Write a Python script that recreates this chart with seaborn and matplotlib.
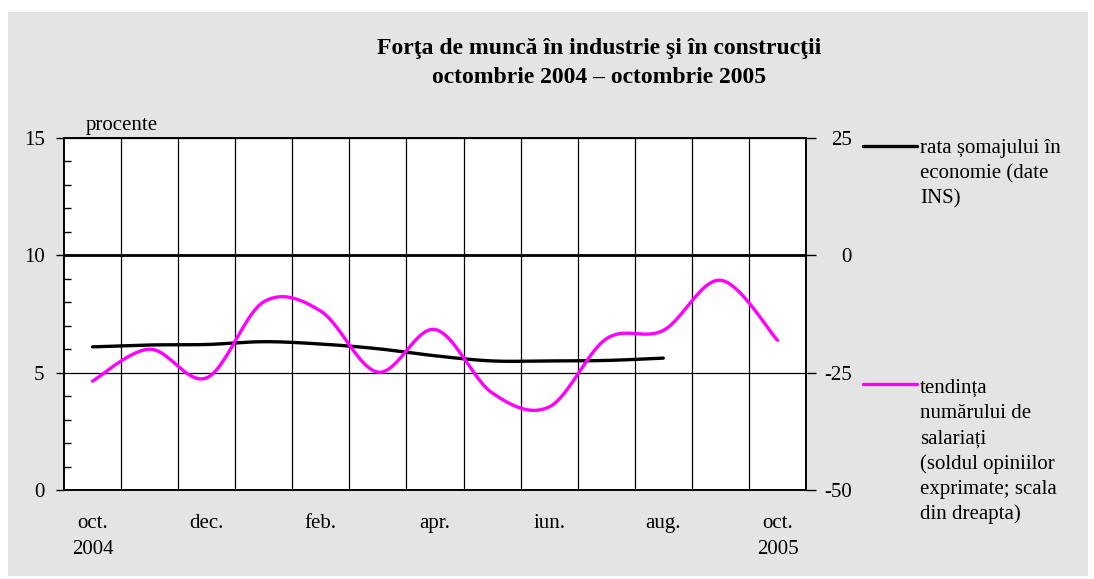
import numpy as np
import pandas as pd
import matplotlib.pyplot as plt
import seaborn as sns
from matplotlib.patches import Rectangle
from matplotlib.lines import Line2D

# month categories, oct 2004 .. oct 2005
months = ['oct.\n2004', 'nov.', 'dec.', 'ian.', 'feb.', 'mar.', 'apr.',
          'mai', 'iun.', 'iul.', 'aug.', 'sep.', 'oct.\n2005']
tick_labels = [m if i % 2 == 0 else '' for i, m in enumerate(months)]

# rata somajului (%), left axis - stops at aug.
unemployment = [6.1, 6.18, 6.2, 6.32, 6.22, 6.02, 5.72, 5.5, 5.5, 5.52, 5.62]
# tendinta numarului de salariati (sold), right axis
employees = [-26.8, -20.0, -26.1, -9.9, -11.9, -24.9, -15.8,
             -29.3, -32.3, -17.8, -16.0, -5.3, -18.1]

title = 'Forţa de muncă în industrie şi în construcţii\noctombrie 2004 – octombrie 2005'
legend_black = ['rata șomajului în', 'economie (date', 'INS)']
legend_pink = ['tendința', 'numărului de', 'salariați', '(soldul opiniilor',
               'exprimate; scala', 'din dreapta)']

W, H = 1094, 579
PINK = '#ff00ff'
FS = 15


def smooth(values, n=25):
    # excel-like smoothed line (bezier through the points)
    p = np.column_stack([np.arange(len(values), dtype=float), np.asarray(values, float)])
    pad = np.vstack([p[0], p, p[-1]])
    t = np.linspace(0, 1, n)[:, None]
    out = []
    for i in range(len(p) - 1):
        p0, p1, p2, p3 = pad[i], pad[i + 1], pad[i + 2], pad[i + 3]
        c1 = p1 + (p2 - p0) / 6
        c2 = p2 - (p3 - p1) / 6
        seg = (1 - t) ** 3 * p1 + 3 * (1 - t) ** 2 * t * c1 + 3 * (1 - t) * t ** 2 * c2 + t ** 3 * p2
        out.append(seg if i == 0 else seg[1:])
    return pd.DataFrame(np.vstack(out), columns=['x', 'y'])


def fx(px):
    return px / W


def fy(py):
    return 1 - py / H


sns.set_style('white')
plt.rcParams['font.family'] = ['Liberation Serif', 'DejaVu Serif']
plt.rcParams.update({'text.color': 'black', 'xtick.color': 'black',
                     'ytick.color': 'black', 'axes.labelcolor': 'black',
                     'axes.unicode_minus': False})

fig = plt.figure(figsize=(W / 100, H / 100), dpi=100, facecolor='white')
fig.patches.append(Rectangle((fx(8), fy(576)), fx(1088 - 8), (576 - 12) / H,
                             transform=fig.transFigure, facecolor='#e4e4e4',
                             edgecolor='none', zorder=-5))

ax = fig.add_axes([fx(64), fy(490), fx(806 - 64), (490 - 138) / H])
ax.set_facecolor('white')
ax2 = ax.twinx()
ax2.patch.set_visible(False)

sns.lineplot(data=smooth(unemployment), x='x', y='y', ax=ax, color='black',
             lw=2.4, sort=False, estimator=None, legend=False)
sns.lineplot(data=smooth(employees), x='x', y='y', ax=ax2, color=PINK,
             lw=2.4, sort=False, estimator=None, legend=False)
ax2.axhline(0, color='black', lw=2, zorder=1)

ax.set_xlim(-0.5, len(months) - 0.5)
ax.set_ylim(0, 15)
ax2.set_ylim(-50, 25)
ax.set_xlabel('')
ax.set_ylabel('')
ax2.set_ylabel('')

ax.set_xticks(range(len(months)))
ax.set_xticklabels(tick_labels, fontsize=FS)
for lab in ax.get_xticklabels():
    lab.set_linespacing(1.5)
ax.set_xticks(np.arange(len(months) - 1) + 0.5, minor=True)
ax.tick_params(axis='x', which='both', length=0, pad=17)
ax.grid(False)
ax.grid(axis='x', which='minor', color='black', lw=0.9)
ax.set_yticks([0, 5, 10, 15])
ax.set_yticks(np.arange(0, 16, 1), minor=True)
ax.grid(axis='y', which='major', color='black', lw=0.9)
ax.tick_params(axis='y', which='major', direction='out', length=6, width=1,
               pad=8, labelsize=FS, left=True)
ax.tick_params(axis='y', which='minor', direction='in', length=5, width=1, left=True)

ax2.set_yticks([-50, -25, 0, 25])
ax2.grid(False)
ax2.tick_params(axis='y', direction='out', length=7, width=1, pad=26,
                labelsize=FS, right=True)
for lab in ax2.get_yticklabels():
    lab.set_ha('right')

for a in (ax, ax2):
    for s in a.spines.values():
        s.set_color('black')
        s.set_linewidth(1.2)
        s.set_visible(True)

fig.text(fx(599), fy(63), title, ha='center', va='center', fontsize=17,
         fontweight='bold', linespacing=1.55)
fig.text(fx(86), fy(130), 'procente', ha='left', va='baseline', fontsize=FS)

# legend keys and wrapped labels on the right
fig.add_artist(Line2D([fx(863), fx(917)], [fy(146), fy(146)], color='black', lw=2.4))
fig.add_artist(Line2D([fx(863), fx(917)], [fy(384), fy(384)], color=PINK, lw=2.4))
for k, line in enumerate(legend_black):
    fig.text(fx(920), fy(153 + 25.3 * k), line, ha='left', va='baseline', fontsize=FS)
for k, line in enumerate(legend_pink):
    fig.text(fx(920), fy(393 + 25.3 * k), line, ha='left', va='baseline', fontsize=FS)

fig.savefig('out.png', dpi=100, facecolor='white')
